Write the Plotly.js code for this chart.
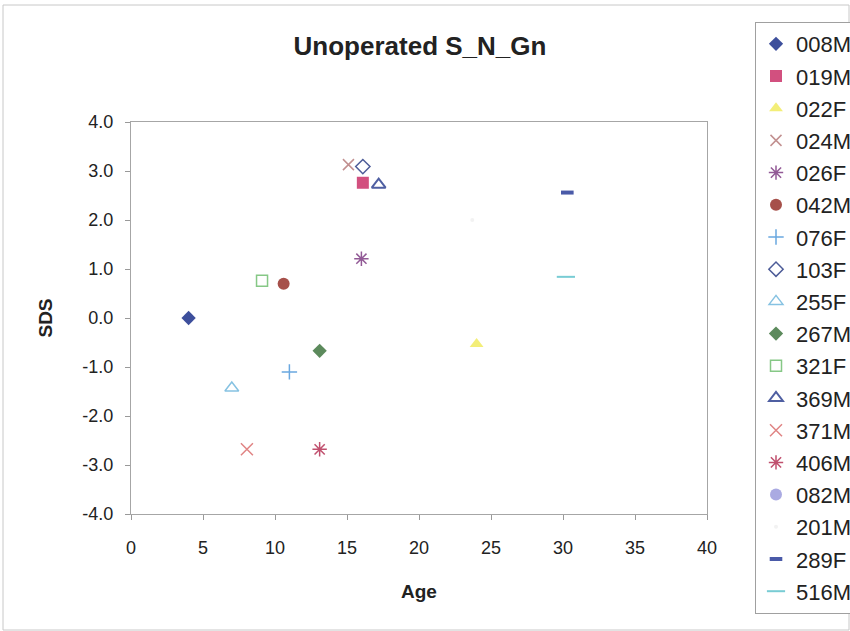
<!DOCTYPE html>
<html>
<head>
<meta charset="utf-8">
<script src="https://cdn.plot.ly/plotly-3.0.1.min.js"></script>
<style>html,body{margin:0;padding:0;background:#fff;}#chart{width:850px;height:631px;}</style>
</head>
<body>
<div id="chart"></div>
<script>
// Series names, in legend order
const names = ["008M","019M","022F","024M","026F","042M","076F","103F","255F","267M","321F","369M","371M","406M","082M","201M","289F","516M"];
// Age (x) values for each series
const ages = [[4.0],[16.1],[24.0],[15.1],[16.0],[10.6],[11.0],[16.1],[7.0],[13.1],[9.1],[17.2],[8.05],[13.1],[null],[23.7],[30.3],[30.2]];
// SDS (y) values for each series
const sds = [[0.0],[2.76],[-0.53],[3.13],[1.21],[0.70],[-1.10],[3.09],[-1.43],[-0.67],[0.76],[2.72],[-2.68],[-2.68],[null],[2.0],[2.56],[0.84]];
const symbols = ["diamond","square","triangle-up","x-thin-open","asterisk-open","circle","cross-thin-open","diamond-open","triangle-up-open","diamond","square-open","triangle-up-open","x-thin-open","asterisk-open","circle","circle","line-ew-open","line-ew-open"];
const colors = ["#3d4f9c","#d2507f","#f3ee78","#c29090","#925a96","#a6504a","#6aa8e0","#4d5c98","#86c2e2","#5c8a5c","#86c886","#4f5fa2","#e08484","#c0506e","#aaaae2","#f2f2f2","#4a5aa8","#78ccd4"];
const sizes = [11,12,12,11,12,12,11,11,12,11,11,12,12,12,12,4,9,13];
const lineW = [0,0,0,1.5,1.5,0,1.5,1.5,1.5,0,1.5,2,1.5,1.5,0,0,4,2];

// Axis tick labels
const yTickVals = [-4,-3,-2,-1,0,1,2,3,4];
const yTickText = ["-4.0","-3.0","-2.0","-1.0","0.0","1.0","2.0","3.0","4.0"];
const xTickVals = [0,5,10,15,20,25,30,35,40];

const traces = names.map((n,i)=>({
  type:"scatter", mode:"markers", name:n, x:ages[i], y:sds[i],
  legendgroup:"g"+i,
  marker:{symbol:symbols[i], size:sizes[i], color:colors[i], line:{color:colors[i], width:lineW[i]}},
  cliponaxis:false
}));

const F = "Liberation Sans, Arial, sans-serif";
const layout = {
  width:850, height:631,
  paper_bgcolor:"#ffffff", plot_bgcolor:"#ffffff",
  margin:{l:131, r:143, t:122, b:117, autoexpand:false},
  font:{family:F, color:"#222"},
  title:{text:"<b>Unoperated S_N_Gn</b>", font:{family:F, size:26, color:"#222"}, x:(420)/850, xanchor:"center", y:1-46/631, yanchor:"middle"},
  xaxis:{range:[0,40], tickvals:xTickVals, ticks:"outside", ticklen:5, tickcolor:"#999", ticklabelstandoff:12,
    showgrid:false, zeroline:false, showline:true, linecolor:"#a6a6a6", mirror:true,
    tickfont:{family:F, size:18, color:"#222"},
    title:{text:"<b>Age</b>", font:{family:F, size:19, color:"#222"}, standoff:28}},
  yaxis:{range:[-4,4], tickvals:yTickVals, ticktext:yTickText, ticks:"outside", ticklen:5, tickcolor:"#999", ticklabelstandoff:8,
    showgrid:false, zeroline:false, showline:true, linecolor:"#a6a6a6", mirror:true,
    tickfont:{family:F, size:18, color:"#222"},
    title:{text:"<b>SDS</b>", font:{family:F, size:19, color:"#222"}, standoff:24}},
  showlegend:true,
  legend:{x:(755-131)/576, xanchor:"left", y:1+(122-22)/392, yanchor:"top", maxheight:640,
    bordercolor:"#a0a0a0", borderwidth:1, bgcolor:"#ffffff",
    font:{family:F, size:22, color:"#222"}, traceorder:"grouped", tracegroupgap:0.6, itemwidth:30},
  shapes:[{type:"rect", xref:"paper", yref:"paper", x0:(3-131)/576, x1:(849-131)/576, y0:-(630-514)/392, y1:1+(122-5)/392,
    line:{color:"#c8c8c8", width:1}, fillcolor:"rgba(0,0,0,0)", layer:"below"}]
};
Plotly.newPlot("chart", traces, layout, {displayModeBar:false, staticPlot:true});
</script>
</body>
</html>
